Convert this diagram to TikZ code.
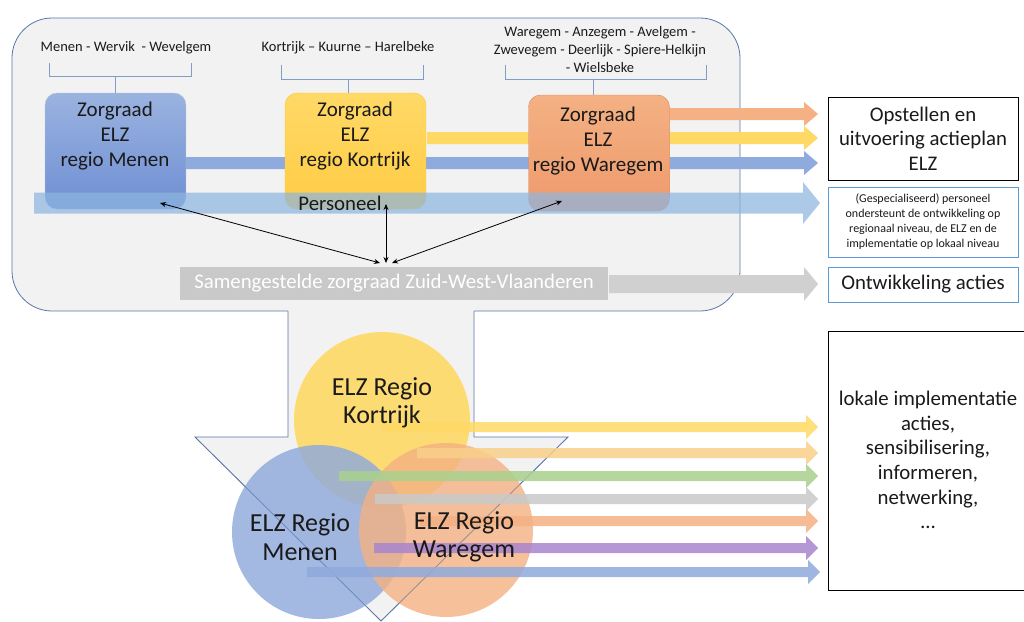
\documentclass[tikz,border=0pt]{standalone}
\usepackage{fontspec}
\setmainfont{Carlito}
\usetikzlibrary{arrows.meta}
\definecolor{panel}{HTML}{F2F2F2}
\definecolor{panelborder}{HTML}{5A76A8}
\definecolor{bracket}{HTML}{7F9DC8}
\definecolor{cblue}{HTML}{8FAADC}
\definecolor{cblued}{HTML}{6F8FD3}
\definecolor{cyellow}{HTML}{FFD966}
\definecolor{cyellowd}{HTML}{FFCC44}
\definecolor{corange}{HTML}{F4B183}
\definecolor{coranged}{HTML}{EE9A6C}
\definecolor{cyellow2}{HTML}{F9D08A}
\definecolor{cgreen}{HTML}{A9D18E}
\definecolor{cgray}{HTML}{C9C9C9}
\definecolor{cgray2}{HTML}{D0D0D0}
\definecolor{cpurple}{HTML}{A985CF}
\definecolor{pers}{HTML}{8DB6E0}
\definecolor{persborder}{HTML}{5B9BD5}
\definecolor{txt}{HTML}{1A1A1A}
\newcommand\blockarr[7]{\fill[#1] (#2,#4-#5) -- (#3-#7,#4-#5) -- (#3-#7,#4-#6) -- (#3,#4) -- (#3-#7,#4+#6) -- (#3-#7,#4+#5) -- (#2,#4+#5) -- cycle;}
\tikzset{
  big/.style={font=\fontsize{20.8}{24.7}\selectfont, text=txt, align=center, inner sep=0pt},
  boxt/.style={font=\fontsize{21}{24.7}\selectfont, text=txt, align=center, inner sep=0pt},
  small/.style={font=\fontsize{14.5}{18}\selectfont, text=txt, align=center, inner sep=0pt},
  circtext/.style={font=\fontsize{26}{28.5}\selectfont, text=txt, align=center, inner sep=0pt},
  zbox/.style={rounded corners=12pt, minimum width=141pt, minimum height=116pt, inner sep=0pt},
  brk/.style={draw=bracket, line width=0.8pt},
  dbl/.style={{Stealth[length=6pt,width=5pt]}-{Stealth[length=6pt,width=5pt]}, line width=0.8pt, black},
  outbox/.style={minimum width=190pt, inner sep=0pt, align=center}
}
\begin{document}
\begin{tikzpicture}[x=1pt,y=-1pt]
\useasboundingbox (0,0) rectangle (1024,621);
\fill[white] (0,0) rectangle (1024,621);

% big panel
\draw[panelborder, fill=panel, line width=0.8pt, rounded corners=40pt] (12,18) rectangle (740,311);
% down arrow
\fill[panel] (288,310) -- (288,437) -- (195,437) -- (381,621) -- (568,437) -- (474,437) -- (474,310) -- cycle;
\draw[panelborder, line width=0.8pt] (288,311) -- (288,437) -- (195,437) -- (381,621) -- (568,437) -- (474,437) -- (474,311);

% brackets and region texts
\node[small] (tmenen) at (126,48) {Menen - Wervik \ - Wevelgem};
\node[small] (tkort) at (348,48) {Kortrijk – Kuurne – Harelbeke};
\node[small] (tware) at (600,50) {Waregem - Anzegem - Avelgem -\\Zwevegem - Deerlijk - Spiere-Helkijn\\- Wielsbeke};
\draw[brk] (49,63) -- (49,76) -- (191,76) -- (191,63);
\draw[brk] (115,76) -- (115,93);
\draw[brk] (281,65) -- (281,79) -- (423,79) -- (423,65);
\draw[brk] (348,79) -- (348,94);
\draw[brk] (505,65) -- (505,79) -- (706,79) -- (706,65);
\draw[brk] (593,79) -- (593,97);

% colored arrows (behind boxes)
\blockarr{corange}{670}{818}{114}{6}{12}{14}
\blockarr{cyellow}{427}{818}{138}{6}{12}{14}
\blockarr{cblue}{186}{818}{163}{6}{12}{14}

% boxes
\node[zbox, draw=cblued!80!black!40, top color=cblue!90!white, bottom color=cblued] (menen) at (115.5,151) {};
\node[zbox, draw=cyellowd!90!orange, top color=cyellow, bottom color=cyellowd] (kort) at (355.5,151) {};
\node[zbox, draw=coranged!90!black, top color=corange, bottom color=coranged] (ware) at (599,153) {};
\node[boxt] at (115,136) {Zorgraad\\ELZ\\regio Menen};
\node[boxt] at (355,136) {Zorgraad\\ELZ\\regio Kortrijk};
\node[boxt] at (598,141) {Zorgraad\\ELZ\\regio Waregem};

% Personeel arrow
\blockarr{pers, opacity=0.72}{34}{820}{203}{10.5}{21}{17}
\node[big] (persl) at (340,203) {Personeel};

% Samengestelde bar
\node[fill=cgray, minimum width=428pt, minimum height=33pt, inner sep=0pt, text=white, font=\fontsize{20.8}{24}\selectfont] (samen) at (394,283.5) {Samengestelde zorgraad Zuid-West-Vlaanderen};
\blockarr{cgray2}{609}{818}{284}{9}{17}{14}

% double arrows
\coordinate (c1) at (380,263);
\coordinate (c2) at (386,263);
\coordinate (c3) at (392,263);
\coordinate (m1) at (160,203);
\coordinate (k1) at (386,204);
\coordinate (w1) at (562,201);
\draw[dbl] (m1) -- (c1);
\draw[dbl] (k1) -- (c2);
\draw[dbl] (w1) -- (c3);

% right boxes
\node[outbox, draw=black, line width=0.9pt, minimum height=83pt, big] (opst) at (923,138.5) {Opstellen en\\uitvoering actieplan\\ELZ};
\node[outbox, draw=persborder, line width=0.9pt, minimum height=70pt, font=\fontsize{12}{15}\selectfont, text=txt] (persb) at (923,222) {(Gespecialiseerd) personeel\\ondersteunt de ontwikkeling op\\regionaal niveau, de ELZ en de\\implementatie op lokaal niveau};
\node[outbox, draw=persborder, line width=0.9pt, minimum height=35pt, big] (ontw) at (923,284.5) {Ontwikkeling acties};
\draw[black, line width=0.9pt] (1030,331) -- (828,331) -- (828,590) -- (1030,590);
\node[big] (lokaal) at (928,460) {lokale implementatie\\acties,\\sensibilisering,\\informeren,\\netwerking,\\…};

% circles
\fill[cyellow, opacity=0.9] (382,420) circle[radius=88pt];
\fill[cblue, opacity=0.82] (319,532) circle[radius=87pt];
\fill[corange, opacity=0.8] (446,530) circle[radius=87pt];
\draw[panelborder, line width=0.6pt, opacity=0.6] (195,437) -- (381,621) -- (568,437);

% bottom arrows
\blockarr{cyellow, opacity=0.85}{383}{818}{427}{5}{12}{12}
\blockarr{cyellow2, opacity=0.85}{417}{818}{453}{5}{12}{12}
\blockarr{cgreen, opacity=0.85}{339}{818}{476}{5}{12}{12}
\blockarr{cgray, opacity=0.85}{375}{818}{499}{5}{12}{12}
\blockarr{corange, opacity=0.85}{420}{818}{521}{5}{12}{12}
\blockarr{cpurple, opacity=0.85}{374}{818}{548}{5}{12}{12}
\blockarr{cblue, opacity=0.85}{307}{820}{572}{5}{12}{12}

\node[circtext] (lk) at (382,403) {ELZ Regio\\Kortrijk};
\node[circtext] (lm) at (300,537) {ELZ Regio\\Menen};
\node[circtext] (lw) at (464,537) {ELZ Regio\\Waregem};
\end{tikzpicture}
\end{document}
